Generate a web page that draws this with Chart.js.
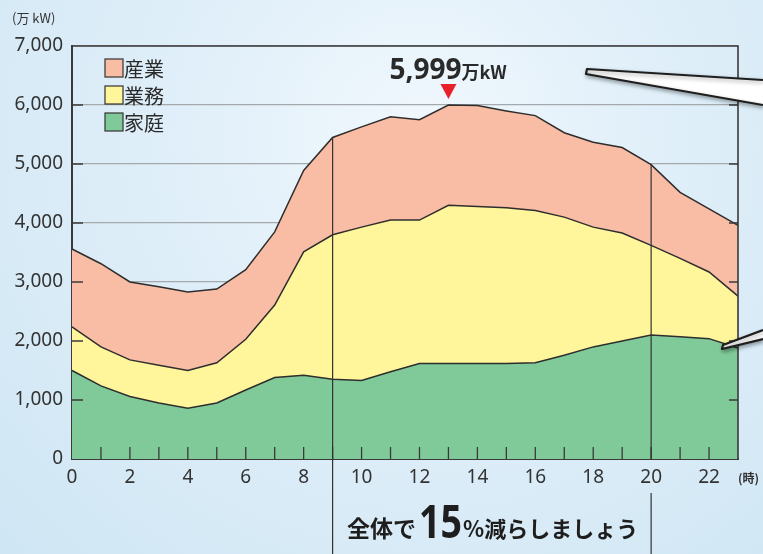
<!DOCTYPE html>
<html>
<head>
<meta charset="utf-8">
<script src="https://cdn.jsdelivr.net/npm/chart.js@4/dist/chart.umd.min.js"></script>
<style>
  html, body { margin: 0; padding: 0; }
  body {
    width: 763px; height: 554px; overflow: hidden;
    background: radial-gradient(ellipse at 55% 25%, #f1f8fd 0%, #e0eff9 40%, #cfe6f4 100%);
  }
  #wrap { position: relative; width: 763px; height: 554px; }
</style>
</head>
<body>
<div id="wrap"><canvas id="demand-chart" width="763" height="554"></canvas></div>
<script>
// hours of the day (x axis)
var hours = [0, 1, 2, 3, 4, 5, 6, 7, 8, 9, 10, 11, 12, 13, 14, 15, 16, 17, 18, 19, 20, 21, 22, 23];

// demand by sector, 万kW (stacked: 家庭 + 業務 + 産業)
var katei = [1500, 1240, 1060, 950, 860, 950, 1170, 1380, 1420, 1350, 1330, 1480, 1620, 1620, 1620, 1620, 1630, 1760, 1900, 2000, 2100, 2070, 2040, 1880];
var gyomu = [740, 660, 620, 640, 640, 680, 860, 1230, 2090, 2450, 2600, 2570, 2430, 2680, 2660, 2640, 2580, 2340, 2030, 1830, 1520, 1330, 1130, 880];
var sangyo = [1320, 1410, 1320, 1330, 1330, 1250, 1180, 1240, 1380, 1650, 1700, 1750, 1700, 1699, 1710, 1640, 1610, 1430, 1440, 1450, 1370, 1120, 1070, 1200];

var yTicks = [0, 1000, 2000, 3000, 4000, 5000, 6000, 7000];
var peakHour = 13;
var markHours = [9, 20];

var numFont = '"Noto Sans", "DejaVu Sans", sans-serif';
var jpFont = '"Noto Sans CJK JP", sans-serif';
var ink = '#333333';

var extras = {
    id: 'extras',
    afterDatasetsDraw: function (chart) {
        var ctx = chart.ctx;
        var area = chart.chartArea;
        var xs = chart.scales.x;
        var ys = chart.scales.y;
        var top = chart.getDatasetMeta(2).data;

        ctx.save();

        // frame top and right
        ctx.strokeStyle = '#3a3a3a';
        ctx.lineWidth = 1.6;
        ctx.beginPath();
        ctx.moveTo(area.left, area.top);
        ctx.lineTo(area.right, area.top);
        ctx.lineTo(area.right, area.bottom);
        ctx.stroke();

        // inner ticks
        ctx.lineWidth = 1.3;
        ctx.beginPath();
        yTicks.slice(1, -1).forEach(function (v) {
            var y = ys.getPixelForValue(v);
            ctx.moveTo(area.left, y); ctx.lineTo(area.left + 11, y);
            ctx.moveTo(area.right, y); ctx.lineTo(area.right - 9, y);
        });
        hours.slice(1, -1).forEach(function (h, i) {
            var x = xs.getPixelForValue(i + 1);
            ctx.moveTo(x, area.bottom); ctx.lineTo(x, area.bottom - 12);
        });
        ctx.stroke();

        // vertical marker lines (9時, 20時)
        ctx.strokeStyle = '#333';
        ctx.lineWidth = 1.2;
        markHours.forEach(function (h) {
            var i = hours.indexOf(h);
            var x = xs.getPixelForValue(i);
            ctx.beginPath();
            ctx.moveTo(x, top[i].y);
            if (h % 2 === 0) {
                ctx.lineTo(x, area.bottom);
                ctx.moveTo(x, area.bottom + 34);
            }
            ctx.lineTo(x, 554);
            ctx.stroke();
        });

        // peak annotation
        var pi = hours.indexOf(peakHour);
        var px = xs.getPixelForValue(pi);
        var py = top[pi].y;
        var peak = katei[pi] + gyomu[pi] + sangyo[pi];
        ctx.fillStyle = '#e8202a';
        ctx.beginPath();
        ctx.moveTo(px - 8, py - 21);
        ctx.lineTo(px + 8, py - 21);
        ctx.lineTo(px, py - 6);
        ctx.closePath();
        ctx.fill();

        ctx.fillStyle = '#2a2a2a';
        ctx.textBaseline = 'alphabetic';
        ctx.font = 'bold 18px ' + jpFont;
        ctx.textAlign = 'left';
        ctx.fillText('万kW', px + 13, py - 26);
        ctx.font = 'bold 28px ' + numFont;
        ctx.textAlign = 'right';
        ctx.fillText(peak.toLocaleString('en-US'), px + 13, py - 26);

        // legend
        var legendItems = [2, 1, 0];
        ctx.textAlign = 'left';
        ctx.textBaseline = 'middle';
        legendItems.forEach(function (di, row) {
            var ds = chart.data.datasets[di];
            var cy = 68 + row * 27;
            ctx.fillStyle = ds.backgroundColor;
            ctx.fillRect(105, cy - 9, 18, 18);
            ctx.strokeStyle = '#333';
            ctx.lineWidth = 1.2;
            ctx.strokeRect(105, cy - 9, 18, 18);
            ctx.fillStyle = '#2a2a2a';
            ctx.font = '20px ' + jpFont;
            ctx.fillText(ds.label, 124, cy + 1);
        });

        // unit labels
        ctx.font = '13px ' + jpFont;
        ctx.fillStyle = '#333';
        ctx.fillText('(万 kW)', 12, 18);
        ctx.font = 'bold 12px ' + jpFont;
        ctx.fillText('(時)', 738, 478);

        // callout wedges
        ctx.shadowColor = 'rgba(0,0,0,0.35)';
        ctx.shadowBlur = 4;
        ctx.shadowOffsetX = 1;
        ctx.shadowOffsetY = 2;
        ctx.fillStyle = '#ffffff';
        ctx.strokeStyle = '#1e1e1e';
        ctx.lineWidth = 2.2;
        ctx.lineJoin = 'round';
        ctx.beginPath();
        ctx.moveTo(763, 80);
        ctx.lineTo(587, 69);
        ctx.lineTo(586, 74);
        ctx.lineTo(763, 105);
        ctx.fill();
        ctx.stroke();
        ctx.beginPath();
        ctx.moveTo(763, 330);
        ctx.lineTo(723, 345);
        ctx.lineTo(722, 349);
        ctx.lineTo(763, 339);
        ctx.fill();
        ctx.stroke();
        ctx.shadowColor = 'transparent';

        // slogan
        ctx.fillStyle = '#1e1e1e';
        ctx.textBaseline = 'alphabetic';
        ctx.textAlign = 'left';
        var x = 347, base = 537;
        ctx.font = 'bold 23px ' + jpFont;
        ctx.fillText('全体で', x, base);
        x += ctx.measureText('全体で').width + 3;
        ctx.font = 'bold 47px ' + numFont;
        var w15 = ctx.measureText('15').width * 0.8;
        ctx.save();
        ctx.translate(x, base + 1);
        ctx.scale(0.8, 1);
        ctx.fillText('15', 0, 0);
        ctx.restore();
        x += w15 + 1;
        ctx.font = 'bold 22px ' + jpFont;
        ctx.fillText('%減らしましょう', x, base);

        ctx.restore();
    }
};

var ctxDemand = document.querySelector('#demand-chart').getContext('2d');

var demandChart = new Chart(ctxDemand, {
    type: 'line',
    data: {
        labels: hours,
        datasets: [{
            label: '家庭',
            data: katei,
            backgroundColor: '#80ca9a',
            borderColor: '#2e2e2e',
            borderWidth: 1.5,
            pointRadius: 0,
            fill: 'origin'
        }, {
            label: '業務',
            data: gyomu,
            backgroundColor: '#fff59a',
            borderColor: '#2e2e2e',
            borderWidth: 1.5,
            pointRadius: 0,
            fill: '-1'
        }, {
            label: '産業',
            data: sangyo,
            backgroundColor: '#f9bca5',
            borderColor: '#2e2e2e',
            borderWidth: 1.5,
            pointRadius: 0,
            fill: '-1'
        }]
    },
    options: {
        responsive: false,
        animation: false,
        layout: { padding: { top: 46, right: 25, left: 0, bottom: 0 } },
        plugins: {
            legend: { display: false },
            tooltip: { enabled: false }
        },
        scales: {
            x: {
                type: 'category',
                offset: false,
                grid: { display: false, drawTicks: false },
                border: { display: true, color: '#3a3a3a', width: 2 },
                ticks: {
                    autoSkip: false,
                    maxRotation: 0,
                    padding: 7,
                    color: ink,
                    font: { family: numFont, size: 19 },
                    callback: function (val, idx) {
                        return (hours[idx] % 2 === 0) ? String(hours[idx]) : '';
                    }
                },
                afterFit: function (scale) { scale.height = 95; }
            },
            y: {
                stacked: true,
                min: 0,
                max: 7000,
                grid: { color: '#a3a9ad', lineWidth: 1.2, drawTicks: false },
                border: { display: true, color: '#3a3a3a', width: 2 },
                ticks: {
                    stepSize: 1000,
                    padding: 9,
                    color: ink,
                    font: { family: numFont, size: 19 },
                    callback: function (v) { return v.toLocaleString('en-US'); }
                },
                afterFit: function (scale) { scale.width = 72; }
            }
        }
    },
    plugins: [extras]
});
</script>
</body>
</html>
